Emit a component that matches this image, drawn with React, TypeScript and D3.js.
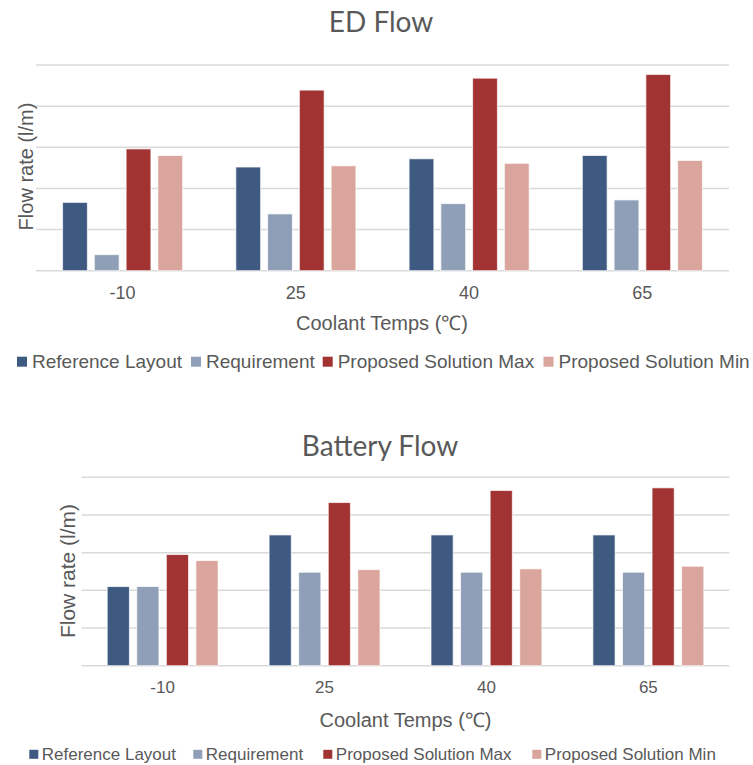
import React from "react";
import * as d3 from "d3";

// Coolant temperatures on the x axis
const categories = ["-10", "25", "40", "65"];
const seriesNames = [
  "Reference Layout",
  "Requirement",
  "Proposed Solution Max",
  "Proposed Solution Min",
];
const seriesColors = ["#3e5a81", "#8f9fb7", "#a13333", "#d9a59c"];

// ED flow (l/m)
const edReference = [1.66, 2.52, 2.72, 2.8];
const edRequirement = [0.39, 1.38, 1.63, 1.72];
const edMax = [2.96, 4.39, 4.68, 4.77];
const edMin = [2.8, 2.55, 2.61, 2.68];

// Battery flow (l/m)
const batReference = [2.1, 3.47, 3.47, 3.47];
const batRequirement = [2.1, 2.48, 2.48, 2.48];
const batMax = [2.95, 4.33, 4.65, 4.72];
const batMin = [2.79, 2.55, 2.57, 2.64];

const yDomainMax = 5;

const TEXT = "#595959";
const BODY_FONT = "'Liberation Sans', Arial, sans-serif";
const TITLE_FONT = "Lato, 'Open Sans', sans-serif";

type Layout = {
  plot: { x0: number; x1: number; y0: number; y1: number };
  groupPad: number;
  barPad: number;
  title: { x: number; y: number };
  yTitle: { x: number; y: number; size: number };
  tickY: number;
  tickSize: number;
  xTitle: { x: number; y: number };
  legend: { y: number; size: number; marker: number; gap: number; xs: number[] };
};

function BarChart({
  title,
  series,
  layout,
}: {
  title: string;
  series: number[][];
  layout: Layout;
}) {
  const { plot } = layout;
  const x0 = d3
    .scaleBand<string>()
    .domain(categories)
    .range([plot.x0, plot.x1])
    .paddingInner(layout.groupPad)
    .paddingOuter(layout.groupPad / 2);
  const x1 = d3
    .scaleBand<number>()
    .domain(d3.range(seriesNames.length))
    .range([0, x0.bandwidth()])
    .paddingInner(layout.barPad);
  const y = d3.scaleLinear().domain([0, yDomainMax]).range([plot.y1, plot.y0]);
  const grid = y.ticks(5);

  return (
    <g>
      <text
        x={layout.title.x}
        y={layout.title.y}
        textAnchor="middle"
        fontFamily={TITLE_FONT}
        fontSize={28}
        fill={TEXT}
      >
        {title}
      </text>
      {grid.map((t) => (
        <line
          key={t}
          x1={plot.x0}
          x2={plot.x1}
          y1={y(t)}
          y2={y(t)}
          stroke="#d9d9d9"
          strokeWidth={1.5}
        />
      ))}
      {categories.map((c, ci) => (
        <g key={c} transform={`translate(${x0(c)},0)`}>
          {series.map((vals, si) => (
            <rect
              key={si}
              x={x1(si)}
              y={y(vals[ci])}
              width={x1.bandwidth()}
              height={y(0) - y(vals[ci])}
              fill={seriesColors[si]}
              stroke="#ffffff"
              strokeOpacity={0.7}
              strokeWidth={1}
            />
          ))}
          <text
            x={x0.bandwidth() / 2}
            y={layout.tickY}
            textAnchor="middle"
            dominantBaseline="central"
            fontFamily={BODY_FONT}
            fontSize={layout.tickSize}
            fill={TEXT}
          >
            {c}
          </text>
        </g>
      ))}
      <text
        transform={`translate(${layout.yTitle.x},${layout.yTitle.y}) rotate(-90)`}
        textAnchor="middle"
        dominantBaseline="central"
        fontFamily={BODY_FONT}
        fontSize={layout.yTitle.size}
        fill={TEXT}
      >
        Flow rate (l/m)
      </text>
      <text
        x={layout.xTitle.x}
        y={layout.xTitle.y}
        textAnchor="middle"
        dominantBaseline="central"
        fontFamily={BODY_FONT}
        fontSize={20}
        fill={TEXT}
      >
        Coolant Temps (℃)
      </text>
      {seriesNames.map((name, i) => (
        <g key={name}>
          <rect
            x={layout.legend.xs[i]}
            y={layout.legend.y - layout.legend.marker / 2}
            width={layout.legend.marker}
            height={layout.legend.marker}
            fill={seriesColors[i]}
          />
          <text
            x={layout.legend.xs[i] + layout.legend.marker + layout.legend.gap}
            y={layout.legend.y}
            dominantBaseline="central"
            fontFamily={BODY_FONT}
            fontSize={layout.legend.size}
            fill={TEXT}
          >
            {name}
          </text>
        </g>
      ))}
    </g>
  );
}

const edLayout: Layout = {
  plot: { x0: 36, x1: 729, y0: 65, y1: 270.7 },
  groupPad: 0.307,
  barPad: 0.22,
  title: { x: 381, y: 32 },
  yTitle: { x: 26, y: 166.5, size: 20 },
  tickY: 292.7,
  tickSize: 18,
  xTitle: { x: 382, y: 323.3 },
  legend: { y: 361.7, size: 19, marker: 10, gap: 5, xs: [17, 191, 322.7, 543.5] },
};

const batteryLayout: Layout = {
  plot: { x0: 81.7, x1: 729.3, y0: 477.3, y1: 665.7 },
  groupPad: 0.315,
  barPad: 0.25,
  title: { x: 380, y: 456 },
  yTitle: { x: 67.5, y: 571, size: 21 },
  tickY: 687.7,
  tickSize: 17,
  xTitle: { x: 405.5, y: 720 },
  legend: { y: 754.3, size: 17, marker: 9, gap: 3.5, xs: [29.3, 193.3, 323.3, 532.3] },
};

export default function App() {
  return (
    <svg
      width={753}
      height={765}
      style={{ position: "absolute", left: 0, top: 0, background: "#ffffff" }}
    >
      <BarChart
        title="ED Flow"
        series={[edReference, edRequirement, edMax, edMin]}
        layout={edLayout}
      />
      <BarChart
        title="Battery Flow"
        series={[batReference, batRequirement, batMax, batMin]}
        layout={batteryLayout}
      />
    </svg>
  );
}
